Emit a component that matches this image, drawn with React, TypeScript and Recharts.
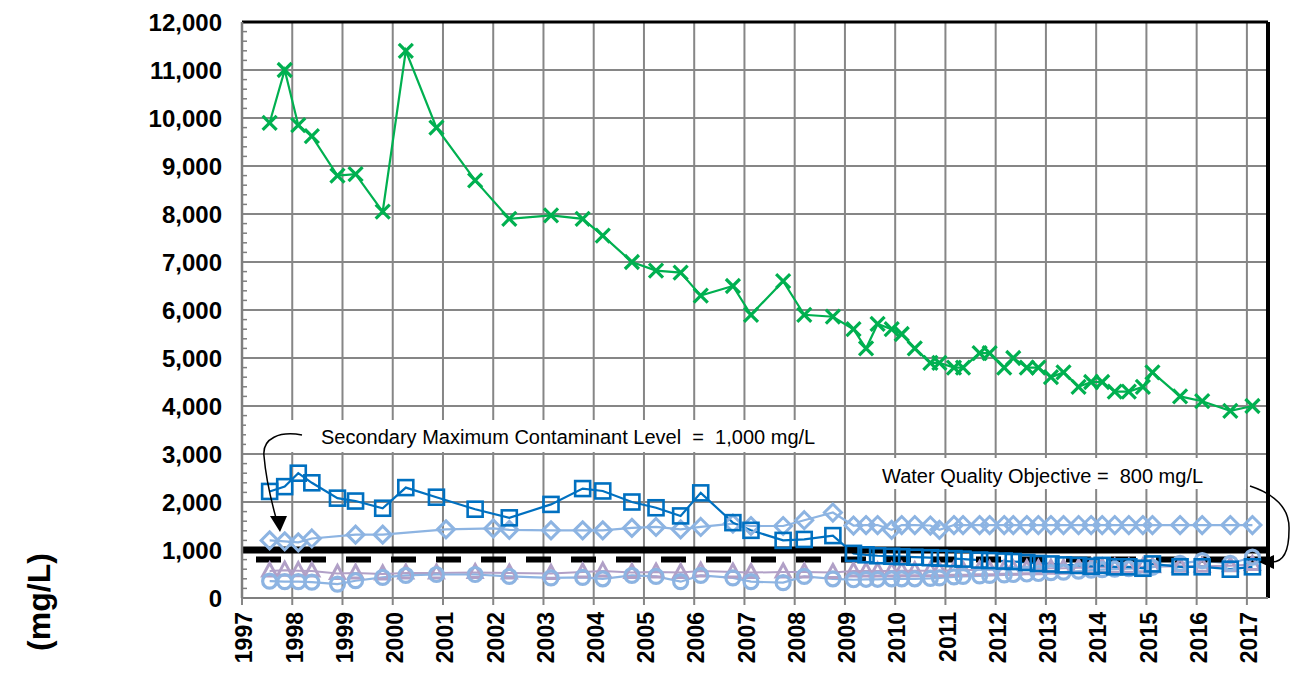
import React from 'react';
import { LineChart, Line, XAxis, YAxis, CartesianGrid, ReferenceLine } from 'recharts';

// sampling dates as decimal years
const dates = [
  1997.55, 1997.85, 1998.12, 1998.39, 1998.9, 1999.26, 1999.8, 2000.26, 2000.87, 2001.06,
  2001.64, 2002.0, 2002.32, 2003.15, 2003.78, 2004.18, 2004.76, 2005.24, 2005.73, 2006.13,
  2006.77, 2007.13, 2007.77, 2008.19, 2008.76, 2009.17, 2009.42, 2009.65, 2009.93, 2010.13,
  2010.39, 2010.7, 2010.88, 2011.17, 2011.35, 2011.68, 2011.88, 2012.17, 2012.35, 2012.62,
  2012.85, 2013.1, 2013.35, 2013.65, 2013.9, 2014.12, 2014.37, 2014.65, 2014.93, 2015.12,
  2015.67, 2016.11, 2016.67, 2017.11,
];

// concentrations (mg/L) per well, null where not sampled
const wellX = [
  9900, 11000, 9850, 9620, 8800, 8830, 8050, 11400, 9800, null,
  8700, null, 7900, 7970, 7900, 7550, 7000, 6820, 6780, 6300,
  6500, 5900, 6600, 5900, 5860, 5600, 5200, 5710, 5600, 5500,
  5200, 4900, 4900, 4800, 4800, 5100, 5100, 4800, 5000, 4800,
  4800, 4600, 4700, 4400, 4500, 4500, 4300, 4300, 4400, 4700,
  4200, 4100, 3900, 4000,
];
const wellSquare = [
  2220, 2320, 2600, 2400, 2080, 2020, 1870, 2300, 2100, null,
  1850, null, 1670, 1950, 2280, 2230, 2000, 1880, 1710, 2190,
  1570, 1410, 1200, 1220, 1300, 930, 900, 880, 870, 860,
  850, 840, 830, 820, 810, 790, 780, 770, 760, 740,
  720, 710, 690, 680, 660, 680, 650, 650, 620, 710,
  650, 650, 600, 650,
];
const wellDiamond = [
  1200, 1180, 1160, 1240, null, 1320, 1320, null, null, 1430,
  null, 1450, 1420, 1410, 1410, 1410, 1460, 1480, 1430, 1480,
  1550, 1500, 1500, 1620, 1780, 1510, 1520, 1520, 1420, 1520,
  1520, 1510, 1420, 1520, 1520, 1520, 1520, 1520, 1520, 1520,
  1520, 1520, 1520, 1520, 1520, 1520, 1520, 1520, 1520, 1520,
  1520, 1520, 1520, 1520,
];
const wellTriangle = [
  560, 580, 570, 560, 510, 520, 500, 520, 520, null,
  530, null, 520, 510, 540, 560, 530, 540, 530, 560,
  540, 530, 540, 540, 530, 560, 560, 560, 560, 570,
  570, 570, 570, 580, 580, 590, 590, 600, 600, 610,
  610, 620, 620, 630, 630, 640, 640, 640, 650, 650,
  660, 660, 670, 700,
];
const wellCircle = [
  350, 340, 340, 330, 290, 360, 430, 470, 490, null,
  490, null, 450, 420, 430, 400, 470, 450, 340, 470,
  420, 340, 320, 450, 400, 380, 390, 390, 400, 400,
  400, 410, 420, 440, 450, 460, 470, 480, 490, 500,
  510, 530, 540, 560, 580, 590, 600, 610, 620, 640,
  720, 780, 720, 850,
];

const years = Array.from({ length: 21 }, (_, i) => 1997 + i);
const yTicks = Array.from({ length: 13 }, (_, i) => i * 1000);
const minorTicks = Array.from({ length: 61 }, (_, i) => i * 200).filter((v) => v % 1000 !== 0);

const smcl = 1000;
const wqo = 800;
const X_MIN = 1997;
const X_MAX = 2017.42;

const rows = dates.map((date, i) => ({
  date,
  x: wellX[i],
  sq: wellSquare[i],
  di: wellDiamond[i],
  tr: wellTriangle[i],
  ci: wellCircle[i],
}));

const FONT = "Arial, 'Liberation Sans', sans-serif";
const GRID = '#868686';

const makeDot = (shape: string, color: string) => (p: any) => {
  const { cx, cy, index, value } = p;
  const key = `${shape}-${index}`;
  if (value == null || cx == null || cy == null) return <g key={key} />;
  switch (shape) {
    case 'x':
      return (
        <g key={key} stroke={color} strokeWidth={3.2}>
          <line x1={cx - 7} y1={cy - 7} x2={cx + 7} y2={cy + 7} />
          <line x1={cx - 7} y1={cy + 7} x2={cx + 7} y2={cy - 7} />
        </g>
      );
    case 'square':
      return <rect key={key} x={cx - 7.5} y={cy - 7.5} width={15} height={15} fill="none" stroke={color} strokeWidth={2.6} />;
    case 'diamond':
      return (
        <polygon
          key={key}
          points={`${cx},${cy - 8.5} ${cx + 8.5},${cy} ${cx},${cy + 8.5} ${cx - 8.5},${cy}`}
          fill="none"
          stroke={color}
          strokeWidth={3}
        />
      );
    case 'triangle':
      return (
        <polygon
          key={key}
          points={`${cx},${cy - 8} ${cx + 7},${cy + 5} ${cx - 7},${cy + 5}`}
          fill="none"
          stroke={color}
          strokeWidth={3}
        />
      );
    default:
      return <circle key={key} cx={cx} cy={cy} r={7} fill="none" stroke={color} strokeWidth={3.2} />;
  }
};

const YearTick = (props: any) => {
  const { x, y, payload } = props;
  return (
    <text
      x={0}
      y={0}
      dy="0.36em"
      transform={`translate(${x + 2},${y + 5}) rotate(-90)`}
      textAnchor="end"
      fontFamily={FONT}
      fontWeight="bold"
      fontSize={23}
      fill="#000"
    >
      {payload.value}
    </text>
  );
};

export default function App() {
  return (
    <div style={{ position: 'absolute', left: 0, top: 0, width: 1291, height: 676, background: '#fff' }}>
      <LineChart width={1291} height={676} data={rows} margin={{ top: 22, right: 23, bottom: 0, left: 0 }}>
        <CartesianGrid stroke={GRID} strokeWidth={2} />
        <XAxis
          dataKey="date"
          type="number"
          domain={[X_MIN, X_MAX]}
          ticks={years}
          interval={0}
          allowDataOverflow
          height={78}
          tick={<YearTick />}
          tickSize={7}
          tickLine={{ stroke: GRID, strokeWidth: 2 }}
          axisLine={{ stroke: '#7f7f7f', strokeWidth: 2 }}
        />
        <YAxis
          type="number"
          domain={[0, 12000]}
          ticks={yTicks}
          interval={0}
          width={242}
          tickLine={false}
          tickMargin={14}
          tickFormatter={(v: number) => v.toLocaleString('en-US')}
          tick={{ fontFamily: FONT, fontWeight: 'bold', fontSize: 24, fill: '#000' }}
          axisLine={{ stroke: '#7f7f7f', strokeWidth: 2.5 }}
        />
        {minorTicks.map((v) => (
          <ReferenceLine
            key={`m${v}`}
            segment={[{ x: X_MIN, y: v }, { x: X_MIN + 0.1, y: v }]}
            stroke="#7f7f7f"
            strokeWidth={1.5}
          />
        ))}
        <Line dataKey="tr" stroke="#b1a0c7" strokeWidth={2} connectNulls dot={makeDot('triangle', '#b1a0c7')} isAnimationActive={false} />
        <Line dataKey="ci" stroke="#8db4e2" strokeWidth={2.2} connectNulls dot={makeDot('circle', '#8db4e2')} isAnimationActive={false} />
        <Line dataKey="di" stroke="#8db4e2" strokeWidth={2.2} connectNulls dot={makeDot('diamond', '#8db4e2')} isAnimationActive={false} />
        <Line dataKey="sq" stroke="#0070c0" strokeWidth={2.2} connectNulls dot={makeDot('square', '#0070c0')} isAnimationActive={false} />
        <Line dataKey="x" stroke="#00b050" strokeWidth={2.2} connectNulls dot={makeDot('x', '#00b050')} isAnimationActive={false} />
        <ReferenceLine y={smcl} stroke="#000" strokeWidth={7} />
        <ReferenceLine y={wqo} stroke="#000" strokeWidth={6} strokeDasharray="25 20" strokeDashoffset={-14} />
        <ReferenceLine y={12000} stroke="#000" strokeWidth={3} />
        <ReferenceLine x={X_MAX} stroke="#000" strokeWidth={4} />
      </LineChart>

      <svg width={1291} height={676} style={{ position: 'absolute', left: 0, top: 0, pointerEvents: 'none' }}>
        <rect x={246} y={420} width={596} height={32} fill="#fff" />
        <rect x={850} y={458} width={396} height={31} fill="#fff" />
        <text x={321} y={444} fontFamily={FONT} fontSize={20} fill="#000">
          Secondary Maximum Contaminant Level{'\u00a0\u00a0'}={'\u00a0\u00a0'}1,000 mg/L
        </text>
        <text x={882} y={483} fontFamily={FONT} fontSize={20} fill="#000">
          Water Quality Objective ={'\u00a0\u00a0'}800 mg/L
        </text>
        <path d="M 302 435 C 280 431, 262 438, 264 456 C 266 480, 271 500, 276 518" fill="none" stroke="#000" strokeWidth={1.5} />
        <polygon points="270,516 287,516 280,532" fill="#000" />
        <path d="M 1250 486 C 1274 494, 1290 508, 1289 530 C 1289 550, 1284 562, 1272 562" fill="none" stroke="#000" strokeWidth={1.5} />
        <polygon points="1274,555 1274,569 1259,562" fill="#000" />
        <text
          transform="translate(38,602) rotate(-90)"
          textAnchor="middle"
          dy="0.36em"
          fontFamily={FONT}
          fontWeight="bold"
          fontSize={32}
          fill="#000"
        >
          (mg/L)
        </text>
      </svg>
    </div>
  );
}
